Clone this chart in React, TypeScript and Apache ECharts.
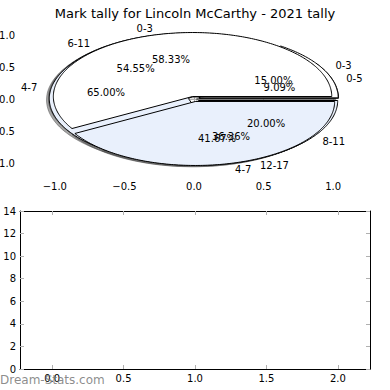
import React, { useEffect, useRef } from 'react';
import * as echarts from 'echarts';

const TITLE = 'Mark tally for Lincoln McCarthy - 2021 tally';
const WATERMARK = 'Dream-Stats.com';

// three overlaid pies, drawn in this order (last one on top)
const pieBLabels = ['0-5', '6-11', '12-17'];
const pieBCounts = [1, 6, 4];
const pieCLabels = ['0-3', '4-7', '8-11'];
const pieCCounts = [3, 13, 4];
const pieALabels = ['0-3', '4-7'];
const pieACounts = [7, 5];
const wedgeColors = ['#ffffff', '#e9f0fc', '#e9f0fc'];
const EXPLODE = 0.04;

const topTicks = [-1, -0.5, 0, 0.5, 1];

// empty bar chart below
const barPositions = [0, 1, 2];
const barValues = [0, 0, 0];
const bottomXTicks = [0, 0.5, 1, 1.5, 2];

const FONT = 'DejaVu Sans';

type Wedge = { t1: number; t2: number; cx: number; cy: number; color: string };
type Label = { x: number; y: number; text: string; align: string };

function buildPies() {
  const wedges: Wedge[] = [];
  const labels: Label[] = [];
  const pies = [
    { labels: pieBLabels, counts: pieBCounts },
    { labels: pieCLabels, counts: pieCCounts },
    { labels: pieALabels, counts: pieACounts },
  ];
  pies.forEach((p) => {
    const total = p.counts.reduce((a, b) => a + b, 0);
    let acc = 0;
    p.counts.forEach((c, i) => {
      const frac = c / total;
      const t1 = acc * 360;
      const t2 = (acc + frac) * 360;
      acc += frac;
      const tm = ((t1 + t2) / 2) * Math.PI / 180;
      const cx = EXPLODE * Math.cos(tm);
      const cy = EXPLODE * Math.sin(tm);
      wedges.push({ t1, t2, cx, cy, color: wedgeColors[i % wedgeColors.length] });
      const lx = cx + 1.1 * Math.cos(tm);
      const ly = cy + 1.1 * Math.sin(tm);
      labels.push({ x: lx, y: ly, text: p.labels[i], align: lx > 0 ? 'left' : 'right' });
      labels.push({
        x: cx + 0.6 * Math.cos(tm),
        y: cy + 0.6 * Math.sin(tm),
        text: (frac * 100).toFixed(2) + '%',
        align: 'center',
      });
    });
  });
  return { wedges, labels };
}

function wedgePoints(api: any, w: Wedge, ox: number, oy: number) {
  const pts: number[][] = [];
  pts.push(api.coord([w.cx + ox, w.cy + oy]));
  const steps = Math.max(2, Math.ceil((w.t2 - w.t1) / 1));
  for (let k = 0; k <= steps; k++) {
    const a = (w.t1 + ((w.t2 - w.t1) * k) / steps) * Math.PI / 180;
    pts.push(api.coord([w.cx + ox + Math.cos(a), w.cy + oy + Math.sin(a)]));
  }
  return pts;
}

const fmt = (v: number) => (v < 0 ? '\u2212' : '') + Math.abs(v).toFixed(1);

export default function App() {
  const ref = useRef<HTMLDivElement>(null);
  useEffect(() => {
    if (!ref.current) return;
    const chart = echarts.init(ref.current, undefined, { renderer: 'svg' });
    const { wedges, labels } = buildPies();
    const tickGray = '#b0b0b0';
    const labelStyle = { fontSize: 10, fontFamily: FONT, color: '#000' };

    const topAxisCommon = {
      type: 'value',
      min: -1.25,
      max: 1.25,
      gridIndex: 0,
      axisLine: { show: false },
      splitLine: { show: false },
      axisTick: { show: true, inside: true, length: 4, lineStyle: { color: tickGray }, customValues: topTicks },
    };

    const option: any = {
      animation: false,
      title: {
        text: TITLE,
        left: 'center',
        top: 2,
        textStyle: { fontSize: 13, fontWeight: 'normal', fontFamily: FONT, color: '#000' },
      },
      grid: [
        { left: 20, top: 19, width: 348, height: 160, containLabel: false, outerBoundsMode: 'none' },
        { left: 20, top: 211, width: 350, height: 158, containLabel: false, outerBoundsMode: 'none' },
      ],
      xAxis: [
        {
          ...topAxisCommon,
          position: 'bottom',
          axisLabel: { ...labelStyle, margin: 2, customValues: topTicks, formatter: fmt },
        },
        { ...topAxisCommon, position: 'top', axisLabel: { show: false } },
        {
          type: 'value',
          gridIndex: 1,
          min: -0.225,
          max: 2.225,
          position: 'bottom',
          axisLine: { show: true, lineStyle: { color: '#000', width: 1 } },
          splitLine: { show: false },
          axisTick: { show: true, inside: true, length: 4, lineStyle: { color: tickGray }, customValues: bottomXTicks },
          axisLabel: { ...labelStyle, margin: 4, customValues: bottomXTicks, formatter: fmt },
        },
        {
          type: 'value',
          gridIndex: 1,
          min: -0.225,
          max: 2.225,
          position: 'top',
          axisLine: { show: true, onZero: false, lineStyle: { color: '#000', width: 1 } },
          splitLine: { show: false },
          axisTick: { show: true, inside: true, length: 4, lineStyle: { color: tickGray }, customValues: bottomXTicks },
          axisLabel: { show: false },
        },
      ],
      yAxis: [
        {
          ...topAxisCommon,
          position: 'left',
          axisLabel: { ...labelStyle, margin: 5, customValues: topTicks, formatter: fmt },
        },
        { ...topAxisCommon, position: 'right', axisLabel: { show: false } },
        {
          type: 'value',
          gridIndex: 1,
          min: 0,
          max: 14,
          interval: 2,
          position: 'left',
          axisLine: { show: true, onZero: false, lineStyle: { color: '#000', width: 1 } },
          splitLine: { show: false },
          axisTick: { show: true, inside: true, length: 4, lineStyle: { color: tickGray } },
          axisLabel: { ...labelStyle, margin: 4 },
        },
        {
          type: 'value',
          gridIndex: 1,
          min: 0,
          max: 14,
          interval: 2,
          position: 'right',
          axisLine: { show: true, onZero: false, lineStyle: { color: '#000', width: 1 } },
          splitLine: { show: false },
          axisTick: { show: true, inside: true, length: 4, lineStyle: { color: tickGray } },
          axisLabel: { show: false },
        },
      ],
      series: [
        {
          type: 'custom',
          name: 'shadows',
          coordinateSystem: 'cartesian2d',
          xAxisIndex: 0,
          yAxisIndex: 0,
          clip: false,
          z: 1,
          data: wedges.map((_, i) => [0, 0, i]),
          renderItem: (params: any, api: any) => {
            const w = wedges[params.dataIndex];
            return {
              type: 'polygon',
              shape: { points: wedgePoints(api, w, -0.02, -0.02) },
              style: { fill: 'rgba(77,77,77,0.5)', stroke: 'rgba(77,77,77,0.5)', lineWidth: 1 },
            };
          },
        },
        {
          type: 'custom',
          name: 'wedges',
          coordinateSystem: 'cartesian2d',
          xAxisIndex: 0,
          yAxisIndex: 0,
          clip: false,
          z: 2,
          data: wedges.map((_, i) => [0, 0, i]),
          renderItem: (params: any, api: any) => {
            const w = wedges[params.dataIndex];
            return {
              type: 'polygon',
              shape: { points: wedgePoints(api, w, 0, 0) },
              style: { fill: w.color, stroke: '#000', lineWidth: 1 },
            };
          },
        },
        {
          type: 'custom',
          name: 'labels',
          coordinateSystem: 'cartesian2d',
          xAxisIndex: 0,
          yAxisIndex: 0,
          clip: false,
          z: 3,
          data: labels.map((l, i) => [l.x, l.y, i]),
          renderItem: (params: any, api: any) => {
            const l = labels[params.dataIndex];
            const p = api.coord([l.x, l.y]);
            return {
              type: 'text',
              x: p[0],
              y: p[1],
              style: {
                text: l.text,
                fill: '#000',
                fontSize: 10,
                fontFamily: FONT,
                align: l.align,
                verticalAlign: 'middle',
              },
            };
          },
        },
        {
          type: 'bar',
          name: 'tally',
          xAxisIndex: 2,
          yAxisIndex: 2,
          barWidth: '18%',
          itemStyle: { color: '#4c72b0' },
          data: barPositions.map((x, i) => [x, barValues[i]]),
        },
      ],
      graphic: [
        {
          type: 'text',
          left: 0,
          top: 374,
          z: 100,
          style: { text: WATERMARK, fill: 'rgba(120,120,120,0.85)', fontSize: 12, fontFamily: FONT },
        },
      ],
    };
    chart.setOption(option);
    return () => chart.dispose();
  }, []);
  return (
    <div
      ref={ref}
      style={{ position: 'absolute', left: 0, top: 0, width: 390, height: 390, background: '#fff' }}
    />
  );
}
